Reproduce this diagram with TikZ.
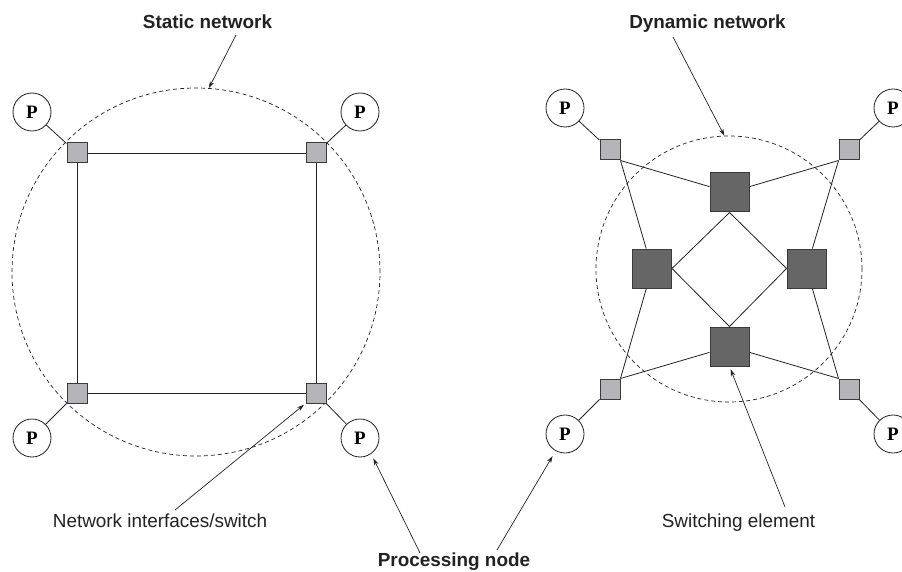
\documentclass[tikz,border=0pt]{standalone}
\usepackage{fontspec}
\setmainfont{Liberation Serif}
\setsansfont{Liberation Sans}
\usetikzlibrary{arrows.meta,calc}
\definecolor{ifgray}{HTML}{B5B5B9}
\definecolor{swgray}{HTML}{666666}
\definecolor{edgegray}{HTML}{3A3A3A}
\definecolor{ink}{HTML}{222222}
\begin{document}
\begin{tikzpicture}[x=1pt,y=-1pt,
  line width=0.8pt,
  proc/.style={circle,draw=ink,fill=white,minimum size=38pt,inner sep=0pt,
    font=\fontsize{19}{19}\selectfont\bfseries},
  iface/.style={draw=edgegray,fill=ifgray,minimum size=20pt,inner sep=0pt,line width=1pt},
  swel/.style={draw=edgegray,fill=swgray,minimum size=39pt,inner sep=0pt,line width=1pt},
  netline/.style={draw=ink},
  boundary/.style={circle,draw=ink,dash pattern=on 4pt off 3pt,inner sep=0pt,line width=0.7pt},
  lbl/.style={anchor=base,text=ink,font=\sffamily\fontsize{18.9}{20}\selectfont},
  title/.style={anchor=base,text=ink,font=\sffamily\bfseries\fontsize{18.9}{20}\selectfont},
  pointer/.style={draw=ink,-{Stealth[length=7pt,width=4.5pt]},line width=0.7pt}
]
\useasboundingbox (0,0) rectangle (902,572);
\clip (0,0) rectangle (902,572);

% ---------- static network ----------
\node[boundary,minimum size=368pt] (scirc) at (196,272) {};

\node[iface] (sTL) at (77,153) {};
\node[iface] (sTR) at (316,153) {};
\node[iface] (sBL) at (77,393) {};
\node[iface] (sBR) at (316,393) {};

\node[proc] (pTL) at (32,112) {P};
\node[proc] (pTR) at (360,112) {P};
\node[proc] (pBL) at (32,438) {P};
\node[proc] (pBR) at (360,438) {P};

\draw[netline] (sTL) -- (sTR) -- (sBR) -- (sBL) -- (sTL);
\draw[netline] (pTL) -- (sTL);
\draw[netline] (pTR) -- (sTR);
\draw[netline] (pBL) -- (sBL);
\draw[netline] (pBR) -- (sBR);

% ---------- dynamic network ----------
\node[boundary,minimum size=266pt] (dcirc) at (729,269) {};

\node[iface] (iTL) at (610,150) {};
\node[iface] (iTR) at (849,150) {};
\node[iface] (iBL) at (610,389) {};
\node[iface] (iBR) at (849,389) {};

\node[proc] (qTL) at (565,108) {P};
\node[proc] (qTR) at (893,108) {P};
\node[proc] (qBL) at (565,434) {P};
\node[proc] (qBR) at (893,434) {P};

\node[swel] (dT) at (729.5,192.5) {};
\node[swel] (dL) at (652,268.5) {};
\node[swel] (dR) at (806.5,268.5) {};
\node[swel] (dB) at (729.5,346.5) {};

\draw[netline] (qTL) -- (iTL);
\draw[netline] (qTR) -- (iTR);
\draw[netline] (qBL) -- (iBL);
\draw[netline] (qBR) -- (iBR);

\draw[netline] (iTL.south east) -- (dT);
\draw[netline] (iTL.south east) -- (dL);
\draw[netline] (iTR.south west) -- (dT);
\draw[netline] (iTR.south west) -- (dR);
\draw[netline] (iBL.north east) -- (dL);
\draw[netline] (iBL.north east) -- (dB);
\draw[netline] (iBR.north west) -- (dR);
\draw[netline] (iBR.north west) -- (dB);

\draw[netline] (dT.south) -- (dL.east);
\draw[netline] (dT.south) -- (dR.west);
\draw[netline] (dB.north) -- (dL.east);
\draw[netline] (dB.north) -- (dR.west);

% ---------- labels ----------
\node[title] (stat) at (207.5,28.5) {Static network};
\node[title] (dyn) at (707.5,28.5) {Dynamic network};
\node[lbl] (nis) at (160,527) {Network interfaces/switch};
\node[lbl] (swl) at (738.5,527) {Switching element};
\node[title] (pn) at (454,566.5) {Processing node};

\coordinate (statTail) at (236,35);
\coordinate (dynTail) at (673,37);
\coordinate (nisTail) at (175,510);
\coordinate (swlTail) at (785,507);
\coordinate (pnTailL) at (420,553);
\coordinate (pnTailR) at (497,550);

\draw[pointer] (statTail) -- (scirc.86);
\draw[pointer] (dynTail) -- (dcirc.92);
\draw[pointer,shorten >=2pt] (nisTail) -- (sBR.south west);
\draw[pointer,shorten >=3pt] (swlTail) -- (dB.south);
\draw[pointer,shorten >=5pt] (pnTailL) -- (pBR.-55);
\draw[pointer,shorten >=6pt] (pnTailR) -- (qBL.-119);
\end{tikzpicture}
\end{document}
